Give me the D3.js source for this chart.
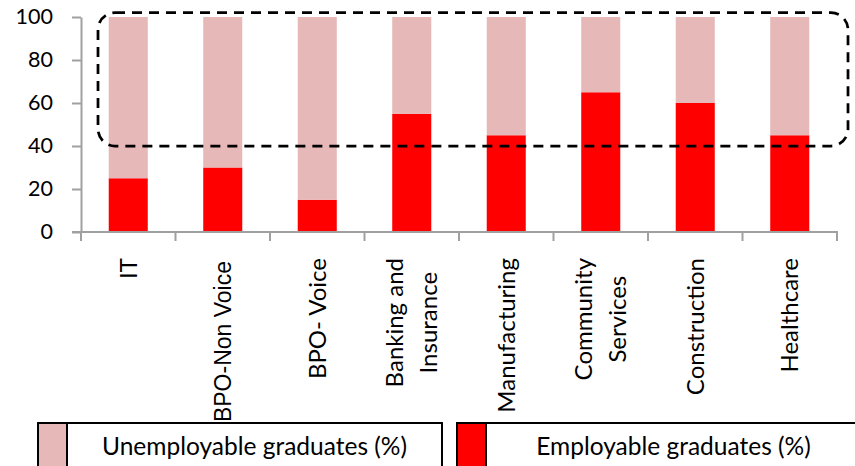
<!DOCTYPE html>
<html><head><meta charset="utf-8">
<script src="https://cdn.jsdelivr.net/npm/d3@7"></script>
<style>html,body{margin:0;padding:0;background:#fff;} svg{display:block;}</style>
</head><body>
<svg id="chart" width="855" height="466"></svg>
<script>
const categories = ["IT","BPO-Non Voice","BPO- Voice","Banking and Insurance","Manufacturing","Community Services","Construction","Healthcare"];
const labelLines = [["IT"],["BPO-Non Voice"],["BPO- Voice"],["Banking and","Insurance"],["Manufacturing"],["Community","Services"],["Construction"],["Healthcare"]];
const employable = [25,30,15,55,45,65,60,45];
const unemployable = [75,70,85,45,55,35,40,55];
const yTicks = [0,20,40,60,80,100];
const legendKeys = ["unemployable","employable"];
const legendNames = ["Unemployable graduates (%)","Employable graduates (%)"];
const highlightRange = [40,102];

const svg = d3.select("#chart");
const plot = {left:81,right:837,top:17,bottom:232};
const x = d3.scaleBand().domain(categories).range([plot.left,plot.right]).paddingInner(0.587).paddingOuter(0.2935);
const y = d3.scaleLinear().domain([0,100]).range([plot.bottom,plot.top]);
const colors = {employable:"#ff0000", unemployable:"#e6b8b7"};
const axisColor = "#a0a0a0";
const font = "Lato, 'Open Sans', sans-serif";

const rows = categories.map((c,i)=>({cat:c, employable:employable[i], unemployable:unemployable[i]}));
const stacked = d3.stack().keys(["employable","unemployable"])(rows);

svg.append("g").selectAll("g").data(stacked).join("g")
  .attr("fill",d=>colors[d.key])
  .selectAll("rect").data(d=>d).join("rect")
  .attr("x",d=>x(d.data.cat)).attr("y",d=>y(d[1]))
  .attr("width",x.bandwidth()).attr("height",d=>y(d[0])-y(d[1]));

// Y axis
const yAxis = svg.append("g").attr("transform",`translate(${plot.left},0)`)
  .call(d3.axisLeft(y).tickValues(yTicks).tickSize(9).tickPadding(19).tickSizeOuter(0));
yAxis.select(".domain").attr("stroke",axisColor).attr("stroke-width",2);
yAxis.selectAll(".tick line").attr("stroke",axisColor).attr("stroke-width",2);
yAxis.selectAll(".tick text").attr("font-family",font).attr("font-size","21.5px").attr("fill","#000");

// X axis with boundary ticks
const step = x.step();
const bounds = categories.map(c=>x(c)+x.bandwidth()/2-step/2).concat([x(categories[categories.length-1])+x.bandwidth()/2+step/2]);
const xg = svg.append("g");
xg.append("line").attr("x1",plot.left-9).attr("x2",bounds[bounds.length-1]+1).attr("y1",y(0)).attr("y2",y(0))
  .attr("stroke",axisColor).attr("stroke-width",2);
xg.selectAll("line.tk").data(bounds).join("line").attr("class","tk")
  .attr("x1",d=>d).attr("x2",d=>d).attr("y1",y(0)).attr("y2",y(0)+9)
  .attr("stroke",axisColor).attr("stroke-width",2);

// Category labels (rotated)
const labelTop = 258, linePitch = 34;
categories.forEach((c,i)=>{
  const lines = labelLines[i];
  const isArial = c === "BPO-Non Voice";
  const cx = x(c)+x.bandwidth()/2;
  const g = svg.append("g").attr("transform",`translate(${cx},${labelTop + (isArial?3:0)}) rotate(-90)`);
  const texts = g.selectAll("text").data(lines).join("text")
    .attr("font-family", isArial ? "'Liberation Sans', Arial, sans-serif" : font)
    .attr("font-size", isArial ? "23px" : "24px")
    .attr("fill","#000")
    .attr("text-anchor","middle")
    .attr("y",(d,k)=>(k-(lines.length-1)/2)*linePitch)
    .attr("dy","0.36em")
    .text(d=>d);
  let maxW = 0;
  texts.each(function(){ maxW = Math.max(maxW, this.getComputedTextLength()); });
  texts.attr("x", -maxW/2);
});

// Highlight dashed rounded box
svg.append("rect")
  .attr("x",plot.left+17).attr("y",y(highlightRange[1]))
  .attr("width",(plot.right+11)-(plot.left+17)).attr("height",y(highlightRange[0])-y(highlightRange[1]))
  .attr("rx",17).attr("ry",17)
  .attr("fill","none").attr("stroke","#000").attr("stroke-width",2.75).attr("stroke-dasharray","10 7");

// Legend
const legW = 404, legGap = 15, swW = 29, legTop = 423;
legendKeys.forEach((k,i)=>{
  const lx = 38 + i*(legW+legGap);
  const g = svg.append("g");
  g.append("rect").attr("x",lx).attr("y",legTop).attr("width",swW).attr("height",60).attr("fill",colors[k]);
  g.append("rect").attr("x",lx).attr("y",legTop).attr("width",legW).attr("height",60)
    .attr("fill","none").attr("stroke","#000").attr("stroke-width",2);
  g.append("line").attr("x1",lx+swW).attr("x2",lx+swW).attr("y1",legTop).attr("y2",legTop+60)
    .attr("stroke","#000").attr("stroke-width",2);
  g.append("text").attr("x",lx+swW+(legW-swW)/2).attr("y",455)
    .attr("text-anchor","middle").attr("font-family",font).attr("font-size","24.5px").attr("fill","#000")
    .text(legendNames[i]);
});
</script>
</body></html>
